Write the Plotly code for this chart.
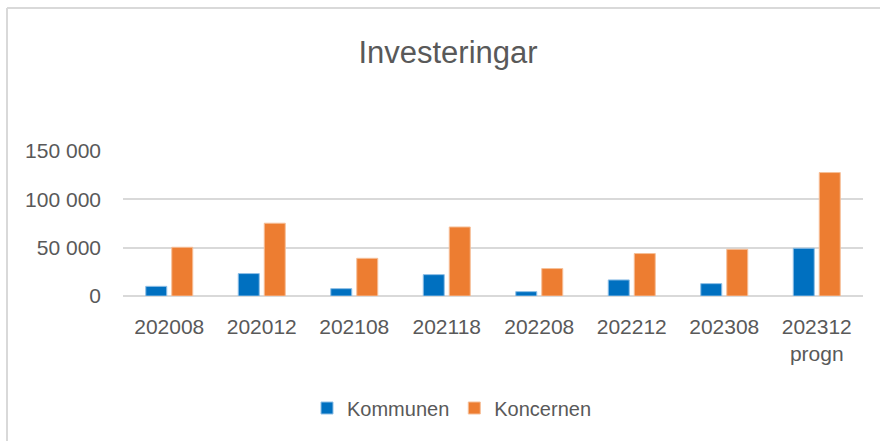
import plotly.graph_objects as go

categories = ["202008", "202012", "202108", "202118", "202208", "202212", "202308", "202312<br>progn"]
kommunen = [10000, 23200, 7600, 22100, 4500, 16600, 12800, 49400]
koncernen = [50400, 75300, 39000, 71400, 28400, 43900, 48300, 127700]
y_ticks = [0, 50000, 100000, 150000]

FONT = "Liberation Sans"
TXT = "#595959"
GRID = "#d9d9d9"

W, H = 880, 441
L, R, T, B = 123, 17, 151, 145
pw, ph = W - L - R, H - T - B

fig = go.Figure()
fig.add_trace(go.Bar(x=categories, y=kommunen, name="Kommunen",
                     marker=dict(color="#0070C0", line=dict(color="#8fbfe6", width=1))))
fig.add_trace(go.Bar(x=categories, y=koncernen, name="Koncernen",
                     marker=dict(color="#ED7D31", line=dict(color="#f6bf98", width=1))))

def px(x):
    return (x - L) / pw

def py(y):
    return 1 - (y - T) / ph

shapes = [
    dict(type="line", xref="paper", yref="paper", x0=px(7), x1=px(7), y0=py(8), y1=py(441),
         line=dict(color=GRID, width=2)),
    dict(type="line", xref="paper", yref="paper", x0=px(7), x1=px(880), y0=py(8), y1=py(8),
         line=dict(color=GRID, width=2)),
]

fig.update_layout(
    width=W, height=H,
    margin=dict(l=L, r=R, t=T, b=B),
    paper_bgcolor="white", plot_bgcolor="white",
    font=dict(family=FONT, color=TXT),
    separators=", ",
    title=dict(text="Investeringar", x=448 / W, xanchor="center",
               y=1 - 51.7 / H, yanchor="middle", yref="container",
               font=dict(size=31, color=TXT, family=FONT)),
    barmode="group", bargap=0.438, bargroupgap=0.192,
    showlegend=True,
    legend=dict(orientation="h", x=px(452), xanchor="center", y=py(408), yanchor="middle",
                font=dict(size=20, color=TXT, family=FONT), itemwidth=30),
    shapes=shapes,
)
fig.update_xaxes(showgrid=False, showline=False, ticks="", tickangle=0,
                 tickfont=dict(size=21, color=TXT, family=FONT), ticklabelstandoff=16)
fig.update_yaxes(range=[0, 150000], tickvals=y_ticks, tickformat=",d",
                 showgrid=True, gridcolor=GRID, gridwidth=1.5,
                 zeroline=True, zerolinecolor=GRID, zerolinewidth=1.5,
                 showline=False, ticks="",
                 tickfont=dict(size=21, color=TXT, family=FONT), ticklabelstandoff=21)

fig.write_html("out.html", config={"displayModeBar": False},
               post_script="document.body.style.margin='0';")
